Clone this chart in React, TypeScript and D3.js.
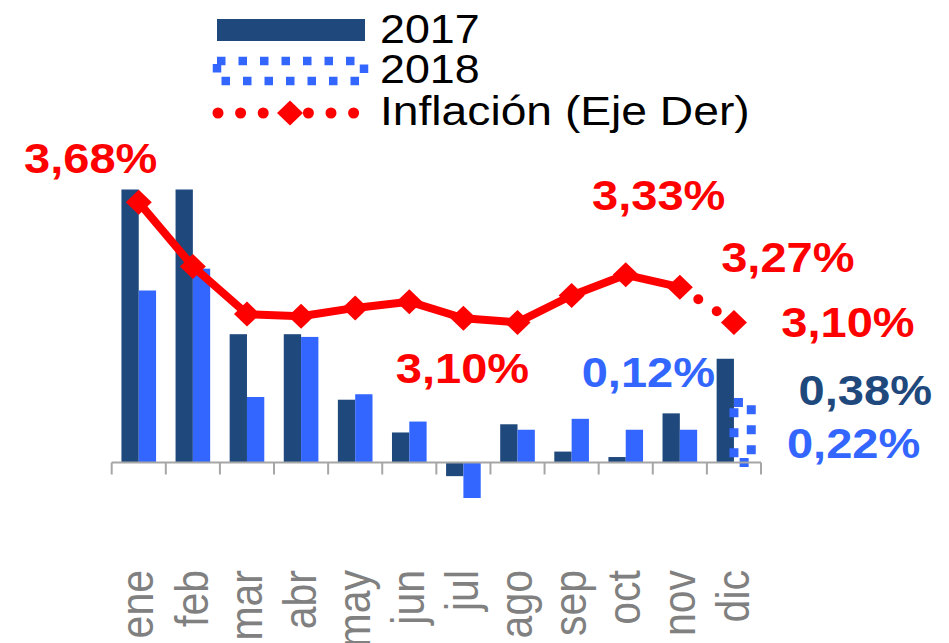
import React from 'react';
import * as d3 from 'd3';

// ---------- data ----------
const months = ['ene', 'feb', 'mar', 'abr', 'may', 'jun', 'jul', 'ago', 'sep', 'oct', 'nov', 'dic'];
const var2017 = [1.02, 1.01, 0.47, 0.47, 0.23, 0.11, -0.05, 0.14, 0.04, 0.02, 0.18, 0.38];
const var2018 = [0.63, 0.71, 0.24, 0.46, 0.25, 0.15, -0.13, 0.12, 0.16, 0.12, 0.12, 0.22];
const inflation = [3.68, 3.37, 3.14, 3.13, 3.17, 3.2, 3.12, 3.1, 3.23, 3.33, 3.27, 3.1];
const projectedIndex = 11; // dic 2018 is a projection
const legendLabels = ['2017', '2018', 'Inflación (Eje Der)'];

// labelled points: series + month index
const labelSeries = ['infl', 'infl', 'infl', 'infl', 'infl', 's2018', 's2017', 's2018'];
const labelIndex = [0, 9, 10, 11, 7, 9, 11, 11];
// label offsets from the anchor point (layout)
const labelDx = [-48, 33, 108, 114, -55, 14, 140, 111];
const labelDy = [-29, -65, -15, 15, 61, -43, 46, 56];

// ---------- layout ----------
const W = 949;
const H = 643;
const SX = 1.12; // horizontal text stretch seen in reference
const FONT = 'Liberation Sans, Arial, Helvetica, sans-serif';
const NAVY = '#1F497D';
const BLUE = '#3366FF';
const RED = '#FF0000';
const AXIS = '#A6A6A6';
const TICKTXT = '#808080';

const fmt = d3.format('.2f');
const pct = (v: number) => `${fmt(v).replace('.', ',')}%`;

const x = d3.scaleBand<string>().domain(months).range([111.7, 761]).paddingInner(0.36).paddingOuter(0.18);
const xBands = d3.scaleBand<string>().domain(months).range([111.7, 761]).padding(0);
const xSub = d3.scaleBand<string>().domain(['2017', '2018']).range([0, x.bandwidth()]);
const yBar = d3.scaleLinear().domain([0, 1]).range([462.5, 189.5]);
const yInf = d3.scaleLinear().domain([3.1, 3.68]).range([322.4, 202.3]);

const cx = (m: string) => (xBands(m) as number) + xBands.bandwidth() / 2;

function diamond(px: number, py: number, hx = 13, hy = 12.5) {
  return `M${px - hx},${py}L${px},${py - hy}L${px + hx},${py}L${px},${py + hy}Z`;
}

function SText(props: any) {
  const { x: tx, y: ty, sx, children, ...rest } = props;
  return (
    <text transform={`translate(${tx},${ty}) scale(${sx || SX},1)`} fontFamily={FONT} {...rest}>
      {children}
    </text>
  );
}

export default function App() {
  const pts = inflation.map((v, i) => [cx(months[i]), yInf(v)] as [number, number]);
  const line = d3.line<[number, number]>().x((d) => d[0]).y((d) => d[1]);
  const solid = line(pts.slice(0, projectedIndex)) as string;
  const dotted = line(pts.slice(projectedIndex - 1, projectedIndex + 1)) as string;
  const base = yBar(0);
  const tickXs = months.map((m) => xBands(m) as number).concat([xBands.range()[1]]);

  const anchor = (k: number): [number, number, string] => {
    const s = labelSeries[k];
    const i = labelIndex[k];
    const m = months[i];
    if (s === 'infl') return [cx(m), yInf(inflation[i]), RED];
    if (s === 's2017')
      return [(x(m) as number) + (xSub('2017') as number) + xSub.bandwidth() / 2, yBar(var2017[i]), NAVY];
    return [(x(m) as number) + (xSub('2018') as number) + xSub.bandwidth() / 2, yBar(var2018[i]), BLUE];
  };
  const labelValue = (k: number) => {
    const s = labelSeries[k];
    const i = labelIndex[k];
    return s === 'infl' ? inflation[i] : s === 's2017' ? var2017[i] : var2018[i];
  };

  return (
    <svg width={W} height={H} style={{ position: 'absolute', left: 0, top: 0, background: '#fff' }}>
      <defs>
        <clipPath id="plot">
          <rect x={0} y={yBar(1)} width={W} height={400} />
        </clipPath>
      </defs>
      <rect width={W} height={H} fill="#fff" />

      {/* bars */}
      <g clipPath="url(#plot)">
        {months.map((m, i) => {
          const x0 = x(m) as number;
          const bw = xSub.bandwidth();
          const a = var2017[i];
          const b = var2018[i];
          const xa = x0 + (xSub('2017') as number);
          const xb = x0 + (xSub('2018') as number);
          return (
            <g key={m}>
              <rect x={xa} y={Math.min(yBar(a), base)} width={bw} height={Math.abs(yBar(a) - base)} fill={NAVY} />
              {i === projectedIndex ? (
                <rect
                  x={xb}
                  y={Math.min(yBar(b), base)}
                  width={bw}
                  height={Math.abs(yBar(b) - base)}
                  fill="none"
                  stroke={BLUE}
                  strokeWidth={9}
                  strokeDasharray="9 11"
                />
              ) : (
                <rect x={xb} y={Math.min(yBar(b), base)} width={bw} height={Math.abs(yBar(b) - base)} fill={BLUE} />
              )}
            </g>
          );
        })}
      </g>

      {/* category axis */}
      <line x1={tickXs[0]} x2={tickXs[tickXs.length - 1]} y1={base} y2={base} stroke={AXIS} strokeWidth={2} />
      {tickXs.map((t, i) => (
        <line key={i} x1={t} x2={t} y1={base} y2={base + 12} stroke={AXIS} strokeWidth={2} />
      ))}
      {months.map((m) => (
        <text
          key={m}
          transform={`translate(${cx(m)},570) scale(${SX},1) rotate(-90)`}
          textAnchor="end"
          dy="0.32em"
          fontFamily={FONT}
          fontSize={41}
          fill={TICKTXT}
        >
          {m}
        </text>
      ))}

      {/* inflation line */}
      <path d={solid} fill="none" stroke={RED} strokeWidth={8} strokeLinejoin="round" />
      <path d={dotted} fill="none" stroke={RED} strokeWidth={10} strokeLinecap="round" strokeDasharray="0 22" />
      {pts.map((p, i) => (
        <path key={i} d={diamond(p[0], p[1])} fill={RED} />
      ))}

      {/* data labels */}
      {labelSeries.map((s, k) => {
        const [ax, ay, col] = anchor(k);
        return (
          <SText key={k} x={ax + labelDx[k]} y={ay + labelDy[k]} textAnchor="middle" fontSize={42} fontWeight="bold" fill={col}>
            {pct(labelValue(k))}
          </SText>
        );
      })}

      {/* legend */}
      <rect x={217} y={19} width={148} height={22} fill={NAVY} />
      <rect x={217} y={61} width={147} height={20} fill="none" stroke={BLUE} strokeWidth={8.5} strokeDasharray="8.5 13" />
      <line x1={218} x2={355} y1={113} y2={113} stroke={RED} strokeWidth={11} strokeLinecap="round" strokeDasharray="0 22.6" />
      <path d={diamond(290, 113)} fill={RED} />
      <SText x={380} y={43} fontSize={40} fill="#000">
        {legendLabels[0]}
      </SText>
      <SText x={380} y={83} fontSize={40} fill="#000">
        {legendLabels[1]}
      </SText>
      <SText x={380} y={125} fontSize={40} sx={1.155} fill="#000">
        {legendLabels[2]}
      </SText>
    </svg>
  );
}
